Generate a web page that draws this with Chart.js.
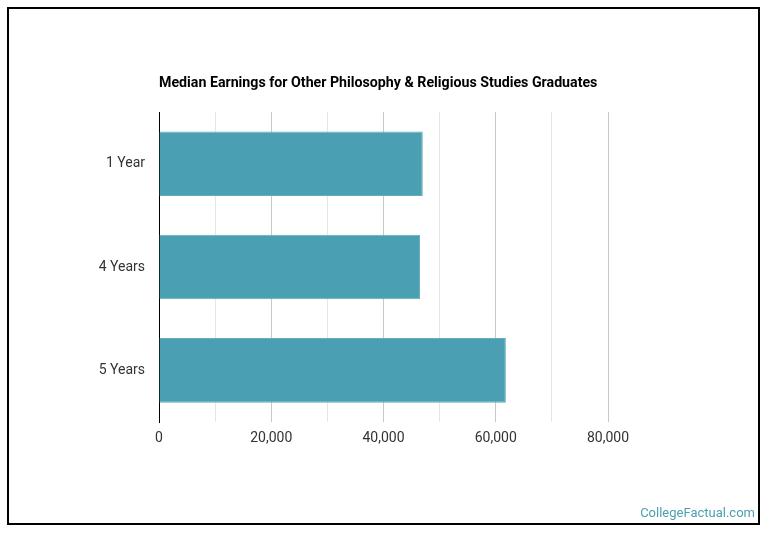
<!DOCTYPE html>
<html>
<head>
<meta charset="utf-8">
<script src="https://cdn.jsdelivr.net/npm/chart.js@4/dist/chart.umd.min.js"></script>
<style>
  html, body { margin: 0; padding: 0; background: #fff; }
  #wrap { position: relative; width: 770px; height: 536px; }
  #frame {
    position: absolute; left: 7px; top: 7px; width: 753px; height: 518px;
    box-sizing: border-box; border: 2px solid #000; pointer-events: none;
  }
  #brand {
    position: absolute; right: 15px; top: 505px;
    font: 13px Roboto, sans-serif; color: #4aa0b2;
  }
  canvas { position: absolute; left: 0; top: 0; }
</style>
</head>
<body>
<div id="wrap">
  <canvas id="barChart" width="770" height="536"></canvas>
  <div id="frame"></div>
  <div id="brand">CollegeFactual.com</div>
</div>
<script>
const TITLE = "Median Earnings for Other Philosophy & Religious Studies Graduates";
const categories = ["1 Year", "4 Years", "5 Years"];
const earnings = [47000, 46500, 61800];
const xTickLabels = [0, 20000, 40000, 60000, 80000];

// ---------------- Title drawn over the chart area ----------------
const titlePlugin = {
  id: "leftTitle",
  afterDraw(chart) {
    const { ctx, chartArea } = chart;
    ctx.save();
    ctx.font = "bold 14.2px Roboto";
    ctx.fillStyle = "#000";
    ctx.textBaseline = "middle";
    ctx.textAlign = "left";
    ctx.fillText(TITLE, chartArea.left, 83);
    ctx.restore();
  }
};

document.addEventListener("DOMContentLoaded", () => {
  Chart.defaults.font.family = "Roboto";
  const ctxBar = document.getElementById("barChart").getContext("2d");
  new Chart(ctxBar, {
    type: "bar",
    data: {
      labels: categories,
      datasets: [{
        label: "Median Earnings",
        data: earnings,
        backgroundColor: "#4aa0b2",
        borderColor: "#62afbf",
        borderWidth: 1,
        categoryPercentage: 1,
        barPercentage: 0.625
      }]
    },
    plugins: [titlePlugin],
    options: {
      indexAxis: "y",
      responsive: false,
      animation: false,
      layout: { padding: { left: 0, top: 112, right: 162, bottom: 84 } },
      plugins: {
        legend: { display: false },
        tooltip: { enabled: false },
        title: { display: false }
      },
      scales: {
        x: {
          min: 0,
          max: 80000,
          ticks: {
            stepSize: 10000,
            padding: 8,
            color: "#333",
            font: { size: 14 },
            maxRotation: 0,
            autoSkip: false,
            callback: v => xTickLabels.includes(v) ? v.toLocaleString("en-US") : ""
          },
          grid: {
            drawTicks: false,
            color: c => c.index === 0 ? "rgba(0,0,0,0)" : (c.tick.value % 20000 === 0 ? "#c8c8c8" : "#e6e6e6")
          },
          border: { display: false },
          afterFit: s => { s.height = 30; }
        },
        y: {
          ticks: { padding: 14, color: "#333", font: { size: 14 } },
          grid: { display: false, drawTicks: false },
          border: { display: true, color: "#000", width: 1 },
          afterFit: s => { s.width = 159; }
        }
      }
    }
  });
});
</script>
</body>
</html>
